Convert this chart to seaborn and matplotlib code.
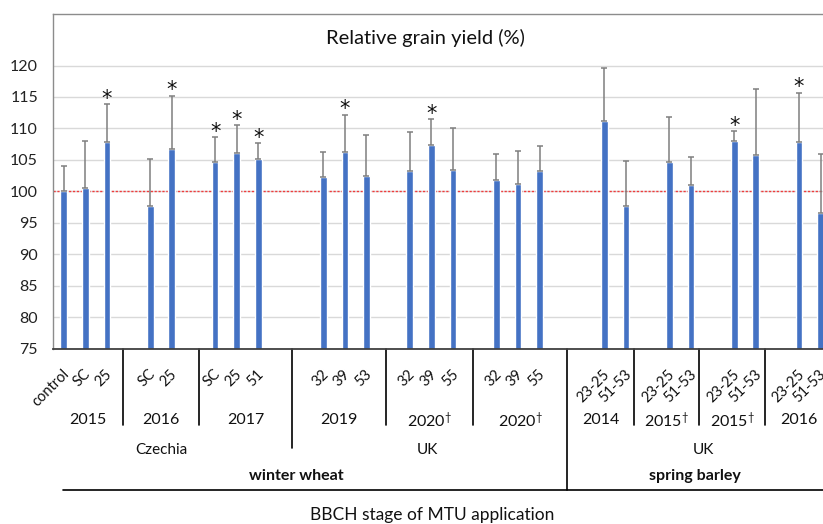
import numpy as np
import pandas as pd
import matplotlib
matplotlib.use("Agg")
import matplotlib.pyplot as plt
import matplotlib.transforms as mtransforms
import seaborn as sns

# BBCH stage of MTU application, one entry per bar
stages = ["control", "SC", "25", "SC", "25", "SC", "25", "51",
          "32", "39", "53", "32", "39", "55", "32", "39", "55",
          "23-25", "51-53", "23-25", "51-53", "23-25", "51-53", "23-25", "51-53"]
# year block of each bar (index into years)
year_idx = [0, 0, 0, 1, 1, 2, 2, 2,
            3, 3, 3, 4, 4, 4, 5, 5, 5,
            6, 6, 7, 7, 8, 8, 9, 9]
# relative grain yield (%) and upper error
yield_pct = [100.0, 100.6, 107.8, 97.7, 106.7, 104.7, 106.1, 105.1,
             102.3, 106.3, 102.5, 103.2, 107.3, 103.4, 101.8, 101.2, 103.2,
             111.2, 97.6, 104.6, 101.0, 108.0, 105.7, 107.9, 96.5]
err = [4.0, 7.4, 6.1, 7.4, 8.5, 3.9, 4.4, 2.6,
       4.0, 5.9, 6.5, 6.3, 4.2, 6.7, 4.2, 5.2, 4.0,
       8.4, 7.2, 7.2, 4.5, 1.6, 10.6, 7.8, 9.5]
signif = [0, 0, 1, 0, 1, 1, 1, 1,
          0, 1, 0, 0, 1, 0, 0, 0, 0,
          0, 0, 0, 0, 1, 0, 1, 0]

years = ["2015", "2016", "2017", "2019", "2020$^{\u2020}$", "2020$^{\u2020}$",
         "2014", "2015$^{\u2020}$", "2015$^{\u2020}$", "2016"]
year_country = [0, 0, 0, 1, 1, 1, 2, 2, 2, 2]
countries = ["Czechia", "UK", "UK"]
crops = ["winter wheat", "spring barley"]

# bar slots: one empty slot between years, two between countries
slots = []
pos = 0
for i, y in enumerate(year_idx):
    if i > 0:
        prev = year_idx[i - 1]
        if y == prev:
            pos += 1
        elif year_country[y] == year_country[prev]:
            pos += 2
        else:
            pos += 3
    slots.append(pos)

df = pd.DataFrame({"slot": slots, "yield": yield_pct, "err": err, "stage": stages})

# the label table under the axis was drawn by hand, lines don't sit exactly between groups
divider_x = [2.73, 6.27, 10.55, 14.89, 18.92, 23.28, 26.38, 29.39, 32.41]
year_edges = [-0.48] + divider_x + [35.55]
country_x = [4.53, 16.84, 29.56]
crop_x = [10.74, 29.2]

W, H = 823, 524
sns.set_style("white")
plt.rcParams["font.family"] = ["Lato", "DejaVu Sans"]
plt.rcParams["mathtext.fontset"] = "custom"
plt.rcParams["mathtext.rm"] = "Lato"
plt.rcParams["mathtext.it"] = "Lato"

fig = plt.figure(figsize=(W / 100, H / 100), dpi=100)
ax = fig.add_axes([53.3 / W, 1 - 348.5 / H, (831.5 - 53.3) / W, (348.5 - 14) / H])

ax.axhline(100, color="#f03c3c", lw=1.0, ls=(0, (1.6, 1.2)), zorder=1.5)
sns.barplot(data=df, x="slot", y="yield", native_scale=True, width=0.31,
            color="#4472c4", saturation=1, errorbar=None, ax=ax, zorder=2)
ax.errorbar(df["slot"], df["yield"], yerr=[np.zeros(len(df)), df["err"]],
            fmt="none", ecolor="#7f7f7f", elinewidth=1.1, capsize=2.2,
            capthick=1.1, zorder=3)

for s, v, e, sig in zip(slots, yield_pct, err, signif):
    if sig:
        ax.annotate("*", (s, v + e), xytext=(0, -0.5), textcoords="offset points",
                    ha="center", va="baseline", fontsize=15,
                    family="DejaVu Sans", color="#111111")

ax.set_xlim(-0.48, 35.5)
ax.set_ylim(75, 128.2)
ax.set_yticks(range(75, 121, 5))
ax.yaxis.grid(True, color="#d9d9d9", lw=1)
ax.set_axisbelow(True)
ax.set_xticks([])
ax.set_xlabel("")
ax.set_ylabel("")
ax.tick_params(axis="y", length=0, pad=11, labelsize=11.5, labelcolor="#222222")
for side in ["left", "top"]:
    ax.spines[side].set_color("#8c8c8c")
    ax.spines[side].set_linewidth(1)
ax.spines["bottom"].set_color("#404040")
ax.spines["bottom"].set_linewidth(1.3)
ax.spines["right"].set_visible(False)

fig.text(425.8 / W, 1 - 38 / H, "Relative grain yield (%)", ha="center",
         va="center", fontsize=14.5, color="#111111")


def fy(py):
    return 1 - py / H


trans = mtransforms.blended_transform_factory(ax.transData, fig.transFigure)

# stage labels, rotated like Excel does them
for s, lab in zip(slots, stages):
    ax.text(s + 0.14, fy(372), lab, transform=trans, rotation=45,
            rotation_mode="anchor", ha="right", va="center", fontsize=10.5,
            color="#111111")

for i, lab in enumerate(years):
    xc = (year_edges[i] + year_edges[i + 1]) / 2
    ax.text(xc, fy(420), lab, transform=trans, ha="center", va="center",
            fontsize=11.5, color="#111111")

for i, x in enumerate(divider_x):
    bottom = 425
    if i == 2:
        bottom = 448
    elif i == 5:
        bottom = 490
    ax.plot([x, x], [fy(349), fy(bottom)], transform=trans, color="black",
            lw=1.2, clip_on=False)

ax.plot([-0.02, 36], [fy(490), fy(490)], transform=trans, color="black",
        lw=1.2, clip_on=False)

for x, lab in zip(country_x, countries):
    ax.text(x, fy(450), lab, transform=trans, ha="center", va="center",
            fontsize=11, color="#111111")
for x, lab in zip(crop_x, crops):
    ax.text(x, fy(476), lab, transform=trans, ha="center", va="center",
            fontsize=11.5, fontweight="bold", color="#111111")

fig.text(432 / W, fy(515), "BBCH stage of MTU application", ha="center",
         va="center", fontsize=12.5, color="#111111")

fig.savefig("out.png", dpi=100)
